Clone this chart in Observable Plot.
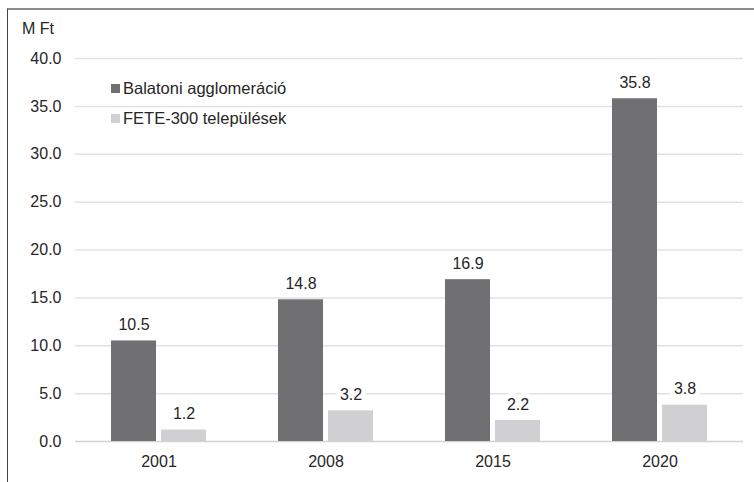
<!DOCTYPE html>
<html><head><meta charset="utf-8">
<script src="https://cdn.jsdelivr.net/npm/d3@7"></script>
<script src="https://cdn.jsdelivr.net/npm/@observablehq/plot@0.6"></script>
<style>
body{margin:0;background:#fff;font-family:"Liberation Sans",Arial,sans-serif;color:#262626;}
#wrap{position:relative;width:754px;height:482px;overflow:hidden;}
#frame{position:absolute;left:7px;top:8px;width:760px;height:490px;border-top:2px solid #8c8c8c;border-left:1px solid #444;box-sizing:border-box;}
#unit{position:absolute;left:22px;top:20px;font-size:16px;}
#legend{position:absolute;left:111px;top:73px;font-size:16.5px;}
.row{display:flex;align-items:center;height:30.5px;}
.sw{width:9px;height:9px;margin-right:3px;}
#chart{position:absolute;left:0;top:0;}
</style>
</head><body>
<div id="wrap">
<div id="frame"></div>
<div id="chart"></div>
<div id="unit">M Ft</div>
<div id="legend"></div>
</div>
<script>
const years = [2001, 2008, 2015, 2020];
const seriesNames = ["Balatoni agglomeráció", "FETE-300 települések"];
const balaton = [10.5, 14.8, 16.9, 35.8];
const fete = [1.2, 3.2, 2.2, 3.8];
const colors = ["#707073", "#d0d0d2"];
const yTicks = [0, 5, 10, 15, 20, 25, 30, 35, 40];

const data = years.flatMap((yr, i) => [
  {year: yr, series: seriesNames[0], value: balaton[i]},
  {year: yr, series: seriesNames[1], value: fete[i]}
]);

const chart = Plot.plot({
  width: 754, height: 482,
  marginLeft: 74, marginRight: 10, marginTop: 58, marginBottom: 41,
  style: {fontFamily: '"Liberation Sans", Arial, sans-serif', fontSize: "16px", color: "#262626", background: "transparent", overflow: "visible"},
  facet: {data, x: "year", label: null},
  fx: {domain: years, padding: 0, label: null, tickSize: 0, tickPadding: 14, tickFormat: d => String(d)},
  x: {domain: seriesNames, paddingInner: 0.098, paddingOuter: 0.69, axis: null},
  y: {domain: [0, 40], ticks: yTicks, tickFormat: d => d.toFixed(1), tickSize: 0, tickPadding: 14, label: null},
  color: {domain: seriesNames, range: colors},
  marks: [
    Plot.ruleY(yTicks.filter(d => d > 0), {stroke: "#e2e2e2", strokeWidth: 1.5, facet: false}),
    Plot.ruleY([0], {stroke: "#d2d2d2", strokeWidth: 1.5, facet: false}),
    Plot.barY(data, {x: "series", y: "value", fill: "series"}),
    Plot.text(data, {x: "series", y: "value", text: d => d.value.toFixed(1), dy: -16,
      fill: "#262626", stroke: "white", strokeWidth: 10, paintOrder: "stroke", fontSize: 16})
  ]
});
document.getElementById("chart").appendChild(chart);

const lg = d3.select("#legend");
seriesNames.forEach((s, i) => {
  const r = lg.append("div").attr("class", "row");
  r.append("div").attr("class", "sw").style("background", colors[i]);
  r.append("span").text(s);
});
</script>
</body></html>
